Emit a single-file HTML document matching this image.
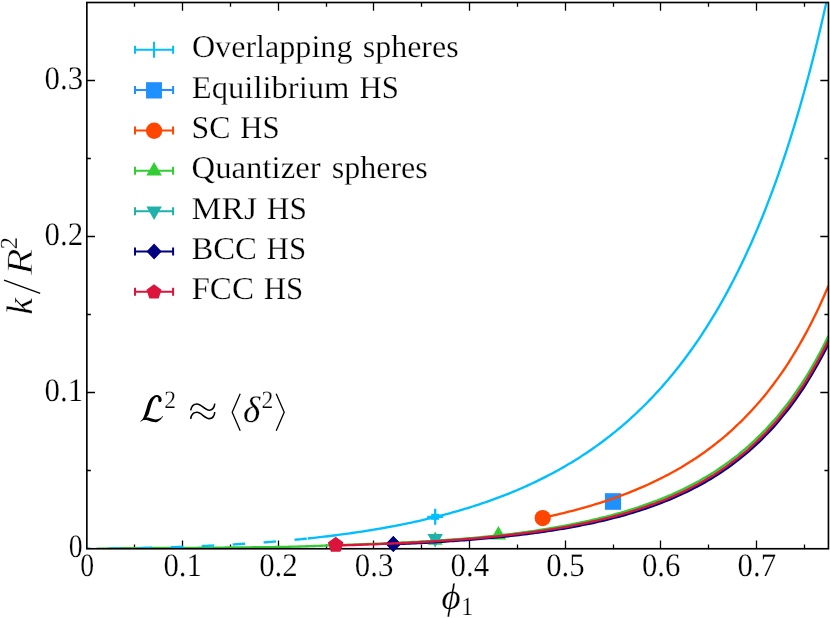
<!DOCTYPE html>
<html><head><meta charset="utf-8"><title>k/R^2 vs phi_1</title>
<style>html,body{margin:0;padding:0;background:#fff}body{width:830px;height:618px;overflow:hidden;font-family:"Liberation Serif",serif}</style></head>
<body>
<svg width="830" height="618" viewBox="0 0 830 618" style="display:block;will-change:transform;text-rendering:geometricPrecision">
<rect width="830" height="618" fill="#fff"/>
<defs><clipPath id="c"><rect x="86.85" y="2.5" width="741.6" height="546.25"/></clipPath></defs>
<path d="M134.50,548.75v-4.2M134.50,2.5v4.2M182.50,548.75v-8.25M182.50,2.5v8.25M230.50,548.75v-4.2M230.50,2.5v4.2M278.50,548.75v-8.25M278.50,2.5v8.25M326.50,548.75v-4.2M326.50,2.5v4.2M373.50,548.75v-8.25M373.50,2.5v8.25M421.50,548.75v-4.2M421.50,2.5v4.2M469.50,548.75v-8.25M469.50,2.5v8.25M517.50,548.75v-4.2M517.50,2.5v4.2M565.50,548.75v-8.25M565.50,2.5v8.25M613.50,548.75v-4.2M613.50,2.5v4.2M660.50,548.75v-8.25M660.50,2.5v8.25M708.50,548.75v-4.2M708.50,2.5v4.2M756.50,548.75v-8.25M756.50,2.5v8.25M804.50,548.75v-4.2M804.50,2.5v4.2M86.85,470.50h4.0M828.45,470.50h-4.0M86.85,392.50h8.15M828.45,392.50h-8.15M86.85,314.50h4.0M828.45,314.50h-4.0M86.85,236.50h8.15M828.45,236.50h-8.15M86.85,158.50h4.0M828.45,158.50h-4.0M86.85,80.50h8.15M828.45,80.50h-8.15" stroke="#000" stroke-width="1.3" fill="none"/>
<g clip-path="url(#c)" fill="none" stroke-linejoin="round">
<path d="M307.80,538.48 L309.81,538.27 L311.82,538.06 L313.83,537.84 L315.84,537.61 L317.85,537.39 L319.86,537.16 L321.87,536.93 L323.88,536.69 L325.89,536.46 L327.90,536.21 L329.91,535.97 L331.92,535.72 L333.93,535.47 L335.94,535.21 L337.95,534.95 L339.96,534.69 L341.97,534.42 L343.98,534.15 L345.99,533.88 L348.00,533.60 L350.01,533.32 L352.02,533.03 L354.03,532.74 L356.04,532.45 L358.05,532.15 L360.06,531.85 L362.07,531.54 L364.08,531.23 L366.09,530.91 L368.11,530.59 L370.12,530.27 L372.13,529.94 L374.14,529.61 L376.15,529.27 L378.16,528.93 L380.17,528.58 L382.18,528.23 L384.19,527.88 L386.20,527.52 L388.21,527.15 L390.22,526.78 L392.23,526.41 L394.24,526.03 L396.25,525.64 L398.26,525.25 L400.27,524.85 L402.28,524.45 L404.29,524.04 L406.30,523.63 L408.31,523.21 L410.32,522.79 L412.33,522.36 L414.34,521.93 L416.35,521.49 L418.36,521.04 L420.37,520.59 L422.38,520.13 L424.39,519.67 L426.40,519.20 L428.41,518.72 L430.42,518.24 L432.43,517.75 L434.44,517.25 L436.45,516.75 L438.46,516.24 L440.47,515.73 L442.48,515.20 L444.49,514.67 L446.50,514.14 L448.51,513.60 L450.52,513.05 L452.53,512.49 L454.54,511.92 L456.56,511.35 L458.57,510.77 L460.58,510.18 L462.59,509.59 L464.60,508.99 L466.61,508.38 L468.62,507.76 L470.63,507.13 L472.64,506.50 L474.65,505.85 L476.66,505.20 L478.67,504.54 L480.68,503.87 L482.69,503.19 L484.70,502.51 L486.71,501.81 L488.72,501.11 L490.73,500.39 L492.74,499.67 L494.75,498.94 L496.76,498.20 L498.77,497.45 L500.78,496.68 L502.79,495.91 L504.80,495.13 L506.81,494.34 L508.82,493.54 L510.83,492.72 L512.84,491.90 L514.85,491.07 L516.86,490.22 L518.87,489.36 L520.88,488.50 L522.89,487.62 L524.90,486.73 L526.91,485.83 L528.92,484.91 L530.93,483.99 L532.94,483.05 L534.95,482.10 L536.96,481.13 L538.97,480.16 L540.98,479.17 L542.99,478.17 L545.01,477.15 L547.02,476.12 L549.03,475.08 L551.04,474.02 L553.05,472.95 L555.06,471.87 L557.07,470.77 L559.08,469.66 L561.09,468.53 L563.10,467.38 L565.11,466.22 L567.12,465.05 L569.13,463.86 L571.14,462.65 L573.15,461.43 L575.16,460.19 L577.17,458.94 L579.18,457.67 L581.19,456.38 L583.20,455.07 L585.21,453.74 L587.22,452.40 L589.23,451.04 L591.24,449.66 L593.25,448.26 L595.26,446.85 L597.27,445.41 L599.28,443.95 L601.29,442.48 L603.30,440.98 L605.31,439.46 L607.32,437.93 L609.33,436.37 L611.34,434.79 L613.35,433.18 L615.36,431.56 L617.37,429.91 L619.38,428.24 L621.39,426.55 L623.40,424.83 L625.41,423.09 L627.42,421.33 L629.43,419.54 L631.45,417.72 L633.46,415.88 L635.47,414.01 L637.48,412.12 L639.49,410.20 L641.50,408.25 L643.51,406.28 L645.52,404.27 L647.53,402.24 L649.54,400.18 L651.55,398.09 L653.56,395.97 L655.57,393.82 L657.58,391.64 L659.59,389.42 L661.60,387.18 L663.61,384.90 L665.62,382.58 L667.63,380.24 L669.64,377.86 L671.65,375.44 L673.66,372.99 L675.67,370.50 L677.68,367.98 L679.69,365.41 L681.70,362.81 L683.71,360.17 L685.72,357.49 L687.73,354.78 L689.74,352.01 L691.75,349.21 L693.76,346.37 L695.77,343.48 L697.78,340.55 L699.79,337.57 L701.80,334.55 L703.81,331.48 L705.82,328.36 L707.83,325.19 L709.84,321.98 L711.85,318.71 L713.86,315.40 L715.87,312.03 L717.88,308.60 L719.90,305.13 L721.91,301.60 L723.92,298.01 L725.93,294.36 L727.94,290.66 L729.95,286.89 L731.96,283.07 L733.97,279.18 L735.98,275.23 L737.99,271.21 L740.00,267.13 L742.01,262.98 L744.02,258.76 L746.03,254.47 L748.04,250.11 L750.05,245.67 L752.06,241.17 L754.07,236.58 L756.08,231.91 L758.09,227.17 L760.10,222.34 L762.11,217.44 L764.12,212.44 L766.13,207.36 L768.14,202.19 L770.15,196.93 L772.16,191.57 L774.17,186.12 L776.18,180.57 L778.19,174.92 L780.20,169.17 L782.21,163.32 L784.22,157.35 L786.23,151.28 L788.24,145.10 L790.25,138.80 L792.26,132.38 L794.27,125.85 L796.28,119.19 L798.29,112.40 L800.30,105.48 L802.31,98.43 L804.32,91.24 L806.33,83.92 L808.35,76.45 L810.36,68.83 L812.37,61.06 L814.38,53.14 L816.39,45.05 L818.40,36.80 L820.41,28.38 L822.42,19.79 L824.43,11.04 L826.44,2.09 L828.45,-7.05" stroke="#00BFFF" stroke-width="2.35"/>
</g>
<g stroke="#00BFFF" stroke-width="2.3" fill="none"><path d="M427.20,516.80H443.20M435.20,508.80V524.80"/></g><rect x="431.20" y="513.80" width="8" height="6" fill="#00BFFF"/>
<rect x="604.90" y="493.20" width="16.2" height="16.6" fill="#1E90FF"/>
<g clip-path="url(#c)" fill="none" stroke-linejoin="round">
<path d="M542.72,517.77 L544.51,517.38 L546.31,516.98 L548.11,516.59 L549.91,516.20 L551.70,515.81 L553.50,515.41 L555.30,515.01 L557.09,514.58 L558.89,514.15 L560.69,513.71 L562.48,513.28 L564.28,512.86 L566.08,512.41 L567.88,511.95 L569.67,511.48 L571.47,511.02 L573.27,510.56 L575.06,510.09 L576.86,509.61 L578.66,509.11 L580.46,508.62 L582.25,508.14 L584.05,507.64 L585.85,507.13 L587.64,506.61 L589.44,506.08 L591.24,505.54 L593.03,505.00 L594.83,504.45 L596.63,503.91 L598.43,503.35 L600.22,502.79 L602.02,502.21 L603.82,501.62 L605.61,501.02 L607.41,500.42 L609.21,499.81 L611.00,499.20 L612.80,498.58 L614.60,497.95 L616.40,497.29 L618.19,496.64 L619.99,496.00 L621.79,495.36 L623.58,494.69 L625.38,493.99 L627.18,493.29 L628.98,492.59 L630.77,491.89 L632.57,491.17 L634.37,490.42 L636.16,489.65 L637.96,488.88 L639.76,488.13 L641.55,487.37 L643.35,486.60 L645.15,485.82 L646.95,485.02 L648.74,484.20 L650.54,483.36 L652.34,482.52 L654.13,481.67 L655.93,480.81 L657.73,479.93 L659.53,479.02 L661.32,478.11 L663.12,477.22 L664.92,476.32 L666.71,475.40 L668.51,474.44 L670.31,473.47 L672.10,472.49 L673.90,471.50 L675.70,470.50 L677.50,469.50 L679.29,468.49 L681.09,467.44 L682.89,466.33 L684.68,465.22 L686.48,464.10 L688.28,462.98 L690.07,461.86 L691.87,460.73 L693.67,459.59 L695.47,458.41 L697.26,457.19 L699.06,455.95 L700.86,454.72 L702.65,453.48 L704.45,452.20 L706.25,450.89 L708.05,449.55 L709.84,448.21 L711.64,446.88 L713.44,445.53 L715.23,444.12 L717.03,442.69 L718.83,441.25 L720.62,439.81 L722.42,438.35 L724.22,436.86 L726.02,435.32 L727.81,433.76 L729.61,432.17 L731.41,430.56 L733.20,428.90 L735.00,427.19 L736.80,425.45 L738.60,423.74 L740.39,422.05 L742.19,420.32 L743.99,418.53 L745.78,416.68 L747.58,414.81 L749.38,412.90 L751.17,410.96 L752.97,408.99 L754.77,406.99 L756.57,404.98 L758.36,402.97 L760.16,400.95 L761.96,398.85 L763.75,396.66 L765.55,394.42 L767.35,392.16 L769.14,389.86 L770.94,387.54 L772.74,385.19 L774.54,382.82 L776.33,380.39 L778.13,377.91 L779.93,375.38 L781.72,372.82 L783.52,370.22 L785.32,367.56 L787.12,364.83 L788.91,362.03 L790.71,359.18 L792.51,356.24 L794.30,353.27 L796.10,350.29 L797.90,347.31 L799.69,344.27 L801.49,341.12 L803.29,337.91 L805.09,334.66 L806.88,331.39 L808.68,328.05 L810.48,324.57 L812.27,320.96 L814.07,317.31 L815.87,313.69 L817.67,310.04 L819.46,306.26 L821.26,302.35 L823.06,298.33 L824.85,294.23 L826.65,290.04 L828.45,285.77" stroke="#FF4500" stroke-width="2.35"/>
</g>
<circle cx="542.7" cy="518.1" r="8.15" fill="#FF4500"/>
<g clip-path="url(#c)" fill="none" stroke-linejoin="round">
<path d="M96.23,548.83 L98.68,548.76 L101.13,548.69 L103.57,548.62 L106.02,548.56 L108.47,548.50 L110.92,548.45 L113.37,548.40 L115.82,548.36 L118.27,548.31 L120.72,548.27 L123.17,548.23 L125.61,548.19 L128.06,548.16 L130.51,548.13 L132.96,548.11 L135.41,548.09 L137.86,548.07 L140.31,548.06 L142.76,548.05 L145.21,548.04 L147.65,548.03 L150.10,548.02 L152.55,548.01 L155.00,548.00 L157.45,548.00 L159.90,547.99 L162.35,547.98 L164.80,547.98 L167.25,547.97 L169.69,547.96 L172.14,547.95 L174.59,547.94 L177.04,547.93 L179.49,547.92 L181.94,547.91 L184.39,547.90 L186.84,547.88 L189.29,547.87 L191.73,547.85 L194.18,547.83 L196.63,547.81 L199.08,547.79 L201.53,547.77 L203.98,547.75 L206.43,547.73 L208.88,547.71 L211.33,547.69 L213.77,547.66 L216.22,547.64 L218.67,547.62 L221.12,547.59 L223.57,547.57 L226.02,547.54 L228.47,547.52 L230.92,547.50 L233.37,547.47 L235.81,547.45 L238.26,547.43 L240.71,547.41 L243.16,547.38 L245.61,547.36 L248.06,547.34 L250.51,547.31 L252.96,547.29 L255.41,547.26 L257.85,547.24 L260.30,547.21 L262.75,547.18 L265.20,547.15 L267.65,547.12 L270.10,547.09 L272.55,547.06 L275.00,547.02 L277.45,546.98 L279.89,546.94 L282.34,546.90 L284.79,546.85 L287.24,546.80 L289.69,546.74 L292.14,546.68 L294.59,546.62 L297.04,546.55 L299.49,546.48 L301.93,546.41 L304.38,546.33 L306.83,546.25 L309.28,546.17 L311.73,546.08 L314.18,546.00 L316.63,545.91 L319.08,545.81 L321.53,545.72 L323.97,545.62 L326.42,545.52 L328.87,545.42 L331.32,545.32 L333.77,545.22 L336.22,545.12 L338.67,545.05 L341.12,544.97 L343.57,544.89 L346.02,544.80 L348.46,544.73 L350.91,544.65 L353.36,544.57 L355.81,544.49 L358.26,544.39 L360.71,544.30 L363.16,544.22 L365.61,544.13 L368.06,544.03 L370.50,543.94 L372.95,543.85 L375.40,543.77 L377.85,543.67 L380.30,543.57 L382.75,543.45 L385.20,543.34 L387.65,543.23 L390.10,543.12 L392.54,543.02 L394.99,542.89 L397.44,542.76 L399.89,542.65 L402.34,542.54 L404.79,542.42 L407.24,542.30 L409.69,542.17 L412.14,542.04 L414.58,541.92 L417.03,541.80 L419.48,541.66 L421.93,541.51 L424.38,541.39 L426.83,541.25 L429.28,541.07 L431.73,540.90 L434.18,540.76 L436.62,540.61 L439.07,540.45 L441.52,540.28 L443.97,540.09 L446.42,539.92 L448.87,539.75 L451.32,539.58 L453.77,539.40 L456.22,539.23 L458.66,539.07 L461.11,538.88 L463.56,538.66 L466.01,538.45 L468.46,538.25 L470.91,538.05 L473.36,537.86 L475.81,537.66 L478.26,537.44 L480.70,537.22 L483.15,536.99 L485.60,536.75 L488.05,536.49 L490.50,536.24 L492.95,535.99 L495.40,535.76 L497.85,535.52 L500.30,535.26 L502.74,534.99 L505.19,534.71 L507.64,534.42 L510.09,534.13 L512.54,533.81 L514.99,533.46 L517.44,533.11 L519.89,532.82 L522.34,532.52 L524.78,532.18 L527.23,531.83 L529.68,531.50 L532.13,531.15 L534.58,530.80 L537.03,530.43 L539.48,530.03 L541.93,529.63 L544.38,529.27 L546.82,528.87 L549.27,528.43 L551.72,527.99 L554.17,527.58 L556.62,527.17 L559.07,526.74 L561.52,526.31 L563.97,525.89 L566.42,525.44 L568.86,524.98 L571.31,524.48 L573.76,523.94 L576.21,523.43 L578.66,522.94 L581.11,522.44 L583.56,521.92 L586.01,521.38 L588.46,520.83 L590.90,520.28 L593.35,519.73 L595.80,519.14 L598.25,518.53 L600.70,517.97 L603.15,517.41 L605.60,516.82 L608.05,516.19 L610.50,515.52 L612.94,514.82 L615.39,514.14 L617.84,513.47 L620.29,512.79 L622.74,512.10 L625.19,511.38 L627.64,510.64 L630.09,509.90 L632.54,509.14 L634.98,508.33 L637.43,507.50 L639.88,506.68 L642.33,505.84 L644.78,504.96 L647.23,504.08 L649.68,503.19 L652.13,502.32 L654.58,501.47 L657.02,500.57 L659.47,499.60 L661.92,498.63 L664.37,497.68 L666.82,496.67 L669.27,495.60 L671.72,494.49 L674.17,493.35 L676.62,492.23 L679.06,491.13 L681.51,490.00 L683.96,488.85 L686.41,487.64 L688.86,486.38 L691.31,485.09 L693.76,483.77 L696.21,482.48 L698.66,481.18 L701.10,479.79 L703.55,478.35 L706.00,476.89 L708.45,475.43 L710.90,473.99 L713.35,472.53 L715.80,470.95 L718.25,469.29 L720.70,467.59 L723.14,465.87 L725.59,464.21 L728.04,462.50 L730.49,460.60 L732.94,458.69 L735.39,456.92 L737.84,455.08 L740.29,453.01 L742.74,450.94 L745.19,449.00 L747.63,446.96 L750.08,444.66 L752.53,442.33 L754.98,440.02 L757.43,437.67 L759.88,435.29 L762.33,432.88 L764.78,430.46 L767.23,427.87 L769.67,425.06 L772.12,422.38 L774.57,419.86 L777.02,417.04 L779.47,413.88 L781.92,410.80 L784.37,407.80 L786.82,404.71 L789.27,401.55 L791.71,398.18 L794.16,394.64 L796.61,391.08 L799.06,387.47 L801.51,383.86 L803.96,380.18 L806.41,376.32 L808.86,372.30 L811.31,368.13 L813.75,363.83 L816.20,359.49 L818.65,355.06 L821.10,350.45 L823.55,345.70 L826.00,340.84 L828.45,335.85" stroke="#32CD32" stroke-width="2.35"/>
<path d="M86.85,548.75 L88.70,548.74 L90.55,548.74 L92.40,548.72 L94.24,548.71 L96.09,548.70 L97.94,548.68 L99.79,548.67 L101.64,548.65 L103.49,548.63 L105.34,548.61 L107.19,548.59 L109.03,548.57 L110.88,548.55 L112.73,548.53 L114.58,548.50 L116.43,548.47 L118.28,548.45 L120.13,548.42 L121.97,548.39 L123.82,548.36 L125.67,548.33 L127.52,548.30 L129.37,548.26 L131.22,548.23 L133.07,548.19 L134.92,548.16 L136.76,548.12 L138.61,548.08 L140.46,548.04 L142.31,548.00 L144.16,547.96 L146.01,547.92 L147.86,547.87 L149.70,547.83 L151.55,547.78 L153.40,547.73 L155.25,547.69 L157.10,547.64 L158.95,547.59 L160.80,547.53 L162.65,547.48 L164.49,547.43 L166.34,547.37 L168.19,547.31 L170.04,547.26 L171.89,547.20 L173.74,547.14 L175.59,547.07 L177.43,547.01 L179.28,546.95 L181.13,546.88 L182.98,546.82 L184.83,546.75 L186.68,546.68 L188.53,546.61 L190.38,546.54 L192.22,546.46 L194.07,546.39 L195.92,546.31 L197.77,546.23 L199.62,546.15 L201.47,546.07 L203.32,545.99 L205.16,545.91 L207.01,545.82 L208.86,545.74 L210.71,545.65 L212.56,545.56 L214.41,545.47 L216.26,545.38 L218.11,545.28 L219.95,545.19 L221.80,545.09 L223.65,544.99 L225.50,544.89 L227.35,544.79 L229.20,544.69 L231.05,544.58 L232.89,544.47 L234.74,544.36 L236.59,544.25 L238.44,544.14 L240.29,544.03 L242.14,543.91 L243.99,543.79 L245.84,543.68 L247.68,543.55 L249.53,543.43 L251.38,543.31 L253.23,543.18 L255.08,543.05 L256.93,542.92 L258.78,542.79 L260.62,542.65 L262.47,542.52 L264.32,542.38 L266.17,542.24 L268.02,542.09 L269.87,541.95 L271.72,541.80 L273.57,541.65 L275.41,541.50 L277.26,541.35 L279.11,541.19 L280.96,541.04 L282.81,540.88 L284.66,540.71 L286.51,540.55 L288.35,540.38 L290.20,540.21 L292.05,540.04 L293.90,539.87 L295.75,539.69 L297.60,539.51 L299.45,539.33 L301.30,539.15 L303.14,538.96 L304.99,538.77 L306.84,538.58" stroke="#00BFFF" stroke-width="2.35" stroke-dasharray="12.45 18.55" stroke-dashoffset="9.1"/>
</g>
<path d="M498.40,526.00L490.61,539.50L506.19,539.50Z" fill="#32CD32"/>
<path d="M435.20,531.60L427.67,544.65L442.73,544.65Z" fill="#32CD32"/>
<path d="M435.20,547.40L427.49,534.05L442.91,534.05Z" fill="#20B2AA"/>
<g clip-path="url(#c)" fill="none" stroke-linejoin="round">
<path d="M393.06,544.29 L395.80,544.17 L398.53,544.05 L401.27,543.94 L404.01,543.82 L406.75,543.68 L409.49,543.56 L412.23,543.43 L414.96,543.28 L417.70,543.13 L420.44,543.00 L423.18,542.86 L425.92,542.71 L428.66,542.55 L431.39,542.38 L434.13,542.23 L436.87,542.08 L439.61,541.91 L442.35,541.74 L445.09,541.56 L447.82,541.38 L450.56,541.20 L453.30,541.00 L456.04,540.81 L458.78,540.61 L461.52,540.41 L464.25,540.21 L466.99,540.00 L469.73,539.78 L472.47,539.57 L475.21,539.36 L477.95,539.14 L480.68,538.90 L483.42,538.64 L486.16,538.40 L488.90,538.15 L491.64,537.87 L494.38,537.59 L497.11,537.35 L499.85,537.08 L502.59,536.78 L505.33,536.51 L508.07,536.23 L510.80,535.91 L513.54,535.60 L516.28,535.31 L519.02,535.00 L521.76,534.67 L524.50,534.34 L527.23,534.00 L529.97,533.65 L532.71,533.29 L535.45,532.91 L538.19,532.53 L540.93,532.15 L543.66,531.74 L546.40,531.31 L549.14,530.92 L551.88,530.51 L554.62,530.08 L557.36,529.65 L560.09,529.20 L562.83,528.74 L565.57,528.27 L568.31,527.80 L571.05,527.32 L573.79,526.84 L576.52,526.31 L579.26,525.74 L582.00,525.20 L584.74,524.67 L587.48,524.11 L590.22,523.55 L592.95,522.99 L595.69,522.38 L598.43,521.72 L601.17,521.10 L603.91,520.48 L606.65,519.83 L609.38,519.14 L612.12,518.41 L614.86,517.73 L617.60,517.07 L620.34,516.34 L623.08,515.57 L625.81,514.76 L628.55,513.95 L631.29,513.13 L634.03,512.30 L636.77,511.46 L639.50,510.59 L642.24,509.69 L644.98,508.78 L647.72,507.84 L650.46,506.87 L653.20,505.87 L655.93,504.86 L658.67,503.85 L661.41,502.82 L664.15,501.75 L666.89,500.67 L669.63,499.60 L672.36,498.46 L675.10,497.25 L677.84,496.04 L680.58,494.79 L683.32,493.48 L686.06,492.18 L688.79,490.89 L691.53,489.51 L694.27,488.07 L697.01,486.65 L699.75,485.19 L702.49,483.66 L705.22,482.11 L707.96,480.54 L710.70,478.89 L713.44,477.20 L716.18,475.48 L718.92,473.72 L721.65,471.91 L724.39,470.05 L727.13,468.16 L729.87,466.23 L732.61,464.26 L735.35,462.17 L738.08,460.02 L740.82,457.88 L743.56,455.65 L746.30,453.32 L749.04,451.03 L751.78,448.72 L754.51,446.18 L757.25,443.58 L759.99,441.04 L762.73,438.36 L765.47,435.52 L768.20,432.70 L770.94,429.85 L773.68,426.87 L776.42,423.75 L779.16,420.39 L781.90,417.07 L784.63,413.82 L787.37,410.44 L790.11,406.95 L792.85,403.30 L795.59,399.49 L798.33,395.52 L801.06,391.52 L803.80,387.51 L806.54,383.17 L809.28,378.63 L812.02,374.12 L814.76,369.49 L817.49,364.66 L820.23,359.73 L822.97,354.67 L825.71,349.36 L828.45,343.79" stroke="#000080" stroke-width="2.35"/>
</g>
<path d="M393.3,536.1L400.90000000000003,544.1L393.3,552.1L385.7,544.1Z" fill="#000080"/>
<g clip-path="url(#c)" fill="none" stroke-linejoin="round">
<path d="M335.64,545.53 L338.74,545.44 L341.84,545.34 L344.94,545.25 L348.04,545.15 L351.14,545.06 L354.24,544.97 L357.34,544.85 L360.44,544.74 L363.54,544.65 L366.64,544.53 L369.74,544.41 L372.84,544.31 L375.94,544.21 L379.04,544.09 L382.13,543.95 L385.23,543.81 L388.33,543.68 L391.43,543.56 L394.53,543.41 L397.63,543.25 L400.73,543.12 L403.83,542.98 L406.93,542.83 L410.03,542.68 L413.13,542.52 L416.23,542.38 L419.33,542.21 L422.43,542.03 L425.53,541.88 L428.63,541.68 L431.73,541.47 L434.82,541.29 L437.92,541.10 L441.02,540.89 L444.12,540.67 L447.22,540.45 L450.32,540.24 L453.42,540.03 L456.52,539.82 L459.62,539.61 L462.72,539.35 L465.82,539.08 L468.92,538.84 L472.02,538.60 L475.12,538.35 L478.22,538.09 L481.32,537.82 L484.41,537.53 L487.51,537.21 L490.61,536.90 L493.71,536.61 L496.81,536.32 L499.91,536.01 L503.01,535.69 L506.11,535.35 L509.21,535.00 L512.31,534.63 L515.41,534.22 L518.51,533.82 L521.61,533.50 L524.71,533.11 L527.81,532.70 L530.91,532.31 L534.01,531.91 L537.10,531.49 L540.20,531.01 L543.30,530.57 L546.40,530.13 L549.50,529.61 L552.60,529.11 L555.70,528.62 L558.80,528.12 L561.90,527.62 L565.00,527.11 L568.10,526.56 L571.20,525.96 L574.30,525.32 L577.40,524.72 L580.50,524.13 L583.60,523.50 L586.69,522.85 L589.79,522.18 L592.89,521.52 L595.99,520.80 L599.09,520.08 L602.19,519.40 L605.29,518.70 L608.39,517.93 L611.49,517.09 L614.59,516.25 L617.69,515.42 L620.79,514.59 L623.89,513.73 L626.99,512.82 L630.09,511.92 L633.19,510.97 L636.29,509.95 L639.38,508.94 L642.48,507.90 L645.58,506.81 L648.68,505.72 L651.78,504.63 L654.88,503.58 L657.98,502.44 L661.08,501.23 L664.18,500.04 L667.28,498.79 L670.38,497.44 L673.48,496.04 L676.58,494.63 L679.68,493.26 L682.78,491.85 L685.88,490.37 L688.97,488.80 L692.07,487.19 L695.17,485.55 L698.27,483.95 L701.37,482.22 L704.47,480.42 L707.57,478.59 L710.67,476.79 L713.77,474.97 L716.87,472.96 L719.97,470.86 L723.07,468.71 L726.17,466.64 L729.27,464.41 L732.37,462.00 L735.47,459.77 L738.57,457.43 L741.66,454.80 L744.76,452.34 L747.86,449.80 L750.96,446.90 L754.06,444.00 L757.16,441.09 L760.26,438.11 L763.36,435.11 L766.46,432.00 L769.56,428.52 L772.66,425.20 L775.76,421.98 L778.86,418.15 L781.96,414.28 L785.06,410.52 L788.16,406.64 L791.25,402.53 L794.35,398.12 L797.45,393.67 L800.55,389.15 L803.65,384.60 L806.75,379.78 L809.85,374.71 L812.95,369.41 L816.05,363.99 L819.15,358.43 L822.25,352.61 L825.35,346.59 L828.45,340.38" stroke="#DC143C" stroke-width="2.35"/>
</g>
<path d="M335.70,537.00L343.31,542.53L340.40,551.47L331.00,551.47L328.09,542.53Z" fill="#DC143C"/>
<rect x="86.85" y="2.5" width="741.6" height="546.25" stroke="#000" stroke-width="1.65" fill="none"/>
<path d="M393.3,536.1L400.90000000000003,544.1L393.3,552.1L385.7,544.1Z" fill="#000080"/>
<path d="M383.97,543.87 L385.62,543.80 L387.27,543.73 L388.93,543.66 L390.58,543.59 L392.23,543.52 L393.88,543.44 L395.54,543.36 L397.19,543.28 L398.84,543.20 L400.50,543.13 L402.15,543.06" stroke="#DC143C" stroke-width="2.35" fill="none"/>
<path d="M335.70,537.00L343.31,542.53L340.40,551.47L331.00,551.47L328.09,542.53Z" fill="#DC143C"/>
<g font-family="'Liberation Serif', serif" font-size="32.9" fill="#000" stroke="#fff" stroke-width="0.25">
<text x="80.25" y="576.0" textLength="13.9" lengthAdjust="spacingAndGlyphs">0</text>
<text x="163.44" y="576.0" textLength="38.6" lengthAdjust="spacingAndGlyphs">0.1</text>
<text x="259.13" y="576.0" textLength="38.6" lengthAdjust="spacingAndGlyphs">0.2</text>
<text x="354.82" y="576.0" textLength="38.6" lengthAdjust="spacingAndGlyphs">0.3</text>
<text x="450.51" y="576.0" textLength="38.6" lengthAdjust="spacingAndGlyphs">0.4</text>
<text x="546.20" y="576.0" textLength="38.6" lengthAdjust="spacingAndGlyphs">0.5</text>
<text x="641.89" y="576.0" textLength="38.6" lengthAdjust="spacingAndGlyphs">0.6</text>
<text x="737.58" y="576.0" textLength="38.6" lengthAdjust="spacingAndGlyphs">0.7</text>
<text x="68.7" y="557.35" textLength="13.9" lengthAdjust="spacingAndGlyphs">0</text>
<text x="44.5" y="401.28" textLength="38.6" lengthAdjust="spacingAndGlyphs">0.1</text>
<text x="44.5" y="245.21" textLength="38.6" lengthAdjust="spacingAndGlyphs">0.2</text>
<text x="44.5" y="89.14" textLength="38.6" lengthAdjust="spacingAndGlyphs">0.3</text>
</g>
<g font-family="'Liberation Serif', serif" font-size="31.8" fill="#000" stroke="#fff" stroke-width="0.25">
<text x="191.9" y="57.40" textLength="160.6" lengthAdjust="spacingAndGlyphs">Overlapping</text>
<text x="362.8" y="57.40" textLength="95.8" lengthAdjust="spacingAndGlyphs">spheres</text>
<text x="191.8" y="97.70" textLength="157.7" lengthAdjust="spacingAndGlyphs">Equilibrium</text>
<text x="359.5" y="97.70" textLength="39.4" lengthAdjust="spacingAndGlyphs">HS</text>
<text x="191.6" y="138.00" textLength="38.9" lengthAdjust="spacingAndGlyphs">SC</text>
<text x="240.2" y="138.00" textLength="39.4" lengthAdjust="spacingAndGlyphs">HS</text>
<text x="191.6" y="178.30" textLength="129.0" lengthAdjust="spacingAndGlyphs">Quantizer</text>
<text x="331.7" y="178.30" textLength="96.1" lengthAdjust="spacingAndGlyphs">spheres</text>
<text x="191.6" y="218.60" textLength="65.4" lengthAdjust="spacingAndGlyphs">MRJ</text>
<text x="266.8" y="218.60" textLength="40.1" lengthAdjust="spacingAndGlyphs">HS</text>
<text x="191.4" y="258.90" textLength="65.6" lengthAdjust="spacingAndGlyphs">BCC</text>
<text x="266.6" y="258.90" textLength="39.5" lengthAdjust="spacingAndGlyphs">HS</text>
<text x="191.4" y="299.20" textLength="62.6" lengthAdjust="spacingAndGlyphs">FCC</text>
<text x="263.7" y="299.20" textLength="39.5" lengthAdjust="spacingAndGlyphs">HS</text>
</g>
<path d="M135.0,49.75H173.1M135.0,45.75v8.0M173.1,45.75v8.0" stroke="#00BFFF" stroke-width="2.0" fill="none"/>
<path d="M154.0,41.65v16.2" stroke="#00BFFF" stroke-width="2.0"/>
<path d="M135.0,90.10H173.1M135.0,86.10v8.0M173.1,86.10v8.0" stroke="#1E90FF" stroke-width="2.0" fill="none"/>
<rect x="146.05" y="82.20" width="15.9" height="16.3" fill="#1E90FF"/>
<path d="M135.0,130.45H173.1M135.0,126.45v8.0M173.1,126.45v8.0" stroke="#FF4500" stroke-width="2.0" fill="none"/>
<circle cx="154.1" cy="130.75" r="8.15" fill="#FF4500"/>
<path d="M135.0,170.80H173.1M135.0,166.80v8.0M173.1,166.80v8.0" stroke="#32CD32" stroke-width="2.0" fill="none"/>
<path d="M154.10,162.10L146.31,175.60L161.89,175.60Z" fill="#32CD32"/>
<path d="M135.0,211.15H173.1M135.0,207.15v8.0M173.1,207.15v8.0" stroke="#20B2AA" stroke-width="2.0" fill="none"/>
<path d="M154.10,220.05L146.31,206.55L161.89,206.55Z" fill="#20B2AA"/>
<path d="M135.0,251.50H173.1M135.0,247.50v8.0M173.1,247.50v8.0" stroke="#000080" stroke-width="2.0" fill="none"/>
<path d="M154.1,243.50L161.7,251.50L154.1,259.50L146.5,251.50Z" fill="#000080"/>
<path d="M135.0,291.85H173.1M135.0,287.85v8.0M173.1,287.85v8.0" stroke="#DC143C" stroke-width="2.0" fill="none"/>
<path d="M154.00,284.25L161.51,289.71L158.64,298.54L149.36,298.54L146.49,289.71Z" fill="#DC143C"/>
<g font-family="'Liberation Serif', serif" fill="#000" stroke="#fff" stroke-width="0.25">
<text x="441.5" y="609" font-size="37" font-style="italic">ϕ</text>
<text x="461.3" y="614.6" font-size="26" textLength="12" lengthAdjust="spacingAndGlyphs">1</text>
<g transform="translate(32.1,314.5) rotate(-90)">
<text x="0" y="0" font-size="37" font-style="italic">k</text>
<text x="39.2" y="0" font-size="37" font-style="italic" textLength="27" lengthAdjust="spacingAndGlyphs" stroke-width="0.75">R</text>
<text x="65.3" y="-14.8" font-size="24.5">2</text>
</g>
<path d="M40.2,293.4L4.0,280.2" stroke="#000" stroke-width="1.35" fill="none"/>
<path d="M190.7,410.4C191.4,405.6 194.4,403.9 197,403.9C201.2,403.9 204.6,410.2 209.2,410.2C212,410.2 214.3,408 214.8,403.7M190.7,418.8C191.4,414 194.4,412.3 197,412.3C201.2,412.3 204.6,418.6 209.2,418.6C212,418.6 214.3,416.4 214.8,412.1" fill="none" stroke="#000" stroke-width="1.55"/>
<text x="243" y="421.6" font-size="37" font-style="italic">δ</text>
<text x="164.3" y="407.8" font-size="25" textLength="11.8" lengthAdjust="spacingAndGlyphs">2</text>
<text x="261.4" y="407.8" font-size="25" textLength="11.8" lengthAdjust="spacingAndGlyphs">2</text>
<path d="M240.2,393.8L232.2,412.3L240.2,430.8M276.2,393.8L284.2,412.3L276.2,430.8" fill="none" stroke="#000" stroke-width="1.3"/>
<path id="calL" stroke="none" d="M161.62,399.92C161.65,399.22 161.54,398.27 161.11,397.52C160.69,396.77 159.83,395.84 159.07,395.41C158.32,394.97 157.50,394.81 156.60,394.90C155.70,394.98 154.71,395.29 153.69,395.92C152.67,396.55 151.40,397.49 150.49,398.68C149.58,399.87 148.90,401.35 148.23,403.05C147.56,404.75 147.07,407.00 146.48,408.87C145.90,410.74 145.33,412.63 144.74,414.26C144.14,415.88 143.61,417.47 142.92,418.62C142.23,419.78 141.12,420.63 140.59,421.17C140.05,421.72 139.63,421.86 139.71,421.90C139.80,421.94 140.44,421.69 141.10,421.39C141.75,421.09 142.74,420.30 143.64,420.08C144.55,419.86 145.46,419.90 146.56,420.08C147.65,420.26 148.98,420.83 150.20,421.17C151.41,421.51 152.68,422.00 153.83,422.12C154.99,422.24 156.08,422.24 157.11,421.90C158.14,421.56 159.21,420.77 160.02,420.08C160.83,419.39 161.48,418.41 161.99,417.75C162.49,417.10 163.00,416.42 163.08,416.15C163.15,415.88 162.81,415.88 162.42,416.15C162.03,416.42 161.45,417.27 160.75,417.75C160.04,418.24 159.11,418.77 158.20,419.06C157.29,419.35 156.38,419.57 155.29,419.50C154.20,419.43 152.80,418.95 151.65,418.62C150.50,418.30 149.22,417.74 148.38,417.53C147.53,417.33 146.52,417.93 146.56,417.39C146.59,416.84 147.99,415.69 148.59,414.26C149.20,412.83 149.66,410.59 150.20,408.80C150.73,407.00 151.23,405.03 151.80,403.49C152.37,401.95 152.97,400.60 153.62,399.56C154.26,398.51 155.01,397.62 155.65,397.23C156.30,396.84 157.02,397.02 157.47,397.23C157.92,397.43 158.20,397.89 158.35,398.46C158.49,399.03 158.19,400.04 158.35,400.65C158.50,401.25 158.86,401.92 159.29,402.10C159.73,402.29 160.58,402.10 160.97,401.74C161.35,401.38 161.60,400.62 161.62,399.92Z"/>
</g>

</svg>
</body></html>
